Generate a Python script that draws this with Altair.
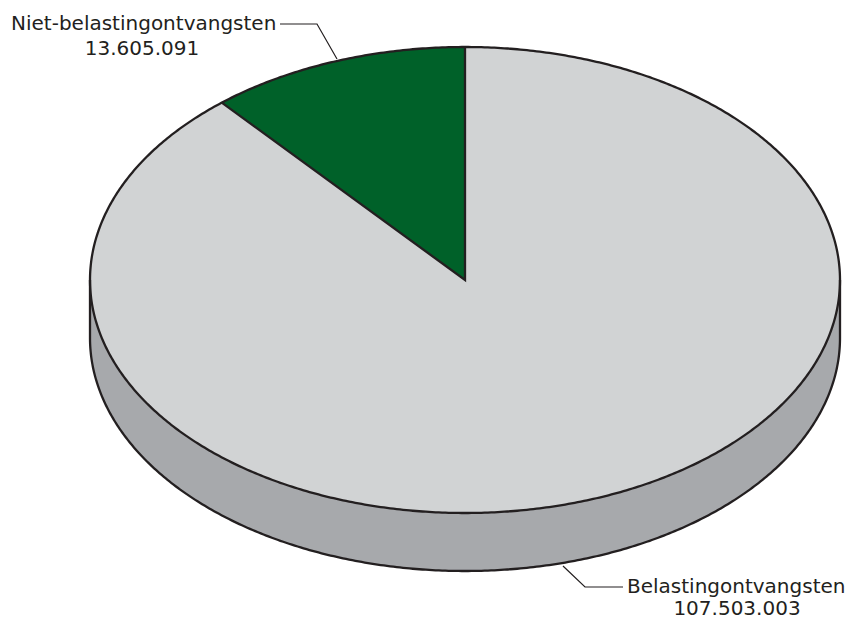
import math
import altair as alt
import pandas as pd

# ---- data ----
categories = ["Niet-belastingontvangsten", "Belastingontvangsten"]
values = [13605091, 107503003]
value_labels = ["13.605.091", "107.503.003"]

# ---- geometry / styles (pixels of the picture) ----
CX, CY, RX, RY, DEPTH = 465, 280, 375, 233, 58
N = 360
total = sum(values)
frac = values[0] / total
TH = 2 * math.pi * frac  # angle of the green slice, counter-clockwise from 12 o'clock

GREEN = "#006129"
TOP_GREY = "#d1d3d4"
SIDE_GREY = "#a7a9ac"
INK = "#231f20"
FONT = "DejaVu Sans"
FS = 20

X_SCALE = alt.Scale(domain=[8, 848], nice=False, zero=False)
Y_SCALE = alt.Scale(domain=[8, 620], nice=False, zero=False, reverse=True)


def X(f):
    return alt.X(f, type="quantitative", scale=X_SCALE, axis=None)


def Y(f):
    return alt.Y(f, type="quantitative", scale=Y_SCALE, axis=None)


seq = alt.sequence(0, N + 1, as_="i")

# side wall of the cylinder
side = alt.Chart(seq).transform_calculate(
    a=f"PI*datum.i/{N}",
).transform_calculate(
    x=f"{CX} - {RX}*cos(datum.a)",
    y=f"{CY} + {RY}*sin(datum.a)",
    y2=f"{CY} + {DEPTH} + {RY}*sin(datum.a)",
).mark_area(color=SIDE_GREY, opacity=1).encode(x=X("x"), y=Y("y"), y2="y2:Q")

# top face (the big grey slice)
top = alt.Chart(seq).transform_calculate(
    a=f"PI*datum.i/{N}",
).transform_calculate(
    x=f"{CX} - {RX}*cos(datum.a)",
    y=f"{CY} - {RY}*sin(datum.a)",
    y2=f"{CY} + {RY}*sin(datum.a)",
).mark_area(color=TOP_GREY, opacity=1).encode(x=X("x"), y=Y("y"), y2="y2:Q")

# green slice
green = alt.Chart(seq).transform_calculate(
    t=f"{TH}*datum.i/{N}",
).transform_calculate(
    x=f"{CX} - {RX}*sin(datum.t)",
    y=f"{CY} - {RY}*cos(datum.t)",
).transform_calculate(
    y2=f"{CY} - {RY}*cos({TH})*(({CX} - datum.x)/({RX}*sin({TH})))",
).mark_area(color=GREEN, opacity=1).encode(x=X("x"), y=Y("y"), y2="y2:Q")

# outline of the top ellipse
seq2 = alt.sequence(0, 2 * N + 1, as_="i")
top_outline = alt.Chart(seq2).transform_calculate(
    t=f"2*PI*datum.i/{2 * N}",
).transform_calculate(
    x=f"{CX} + {RX}*sin(datum.t)",
    y=f"{CY} - {RY}*cos(datum.t)",
).mark_line(color=INK, strokeWidth=2.3).encode(x=X("x"), y=Y("y"), order="i:Q")

# bottom front arc
bottom_outline = alt.Chart(seq).transform_calculate(
    t=f"PI/2 + PI*datum.i/{N}",
).transform_calculate(
    x=f"{CX} + {RX}*sin(datum.t)",
    y=f"{CY} + {DEPTH} - {RY}*cos(datum.t)",
).mark_line(color=INK, strokeWidth=2.3).encode(x=X("x"), y=Y("y"), order="i:Q")

# vertical side edges
edges_df = pd.DataFrame({"x": [CX - RX, CX + RX], "y": [CY, CY], "y2": [CY + DEPTH, CY + DEPTH]})
edges = alt.Chart(edges_df).mark_rule(color=INK, strokeWidth=2.3).encode(
    x=X("x"), y=Y("y"), y2="y2:Q"
)

# slice borders
PX = CX - RX * math.sin(TH)
PY = CY - RY * math.cos(TH)
border_df = pd.DataFrame({"x": [PX, CX, CX], "y": [PY, CY, CY - RY], "o": [0, 1, 2]})
borders = alt.Chart(border_df).mark_line(color=INK, strokeWidth=2.3, strokeJoin="miter").encode(
    x=X("x"), y=Y("y"), order="o:Q"
)

# leader lines
leader_df = pd.DataFrame({
    "g": ["a", "a", "a", "b", "b", "b"],
    "x": [280, 317, 337, 563, 585, 623],
    "y": [24, 24, 59, 566, 587, 587],
    "o": [0, 1, 2, 0, 1, 2],
})
leaders = alt.Chart(leader_df).mark_line(color=INK, strokeWidth=1.2).encode(
    x=X("x"), y=Y("y"), detail="g:N", order="o:Q"
)

# labels
name_df = pd.DataFrame({"label": categories, "x": [11, 627], "y": [30, 593]})
names = alt.Chart(name_df).mark_text(
    align="left", baseline="alphabetic", font=FONT, fontSize=FS, color=INK
).encode(x=X("x"), y=Y("y"), text="label:N")

val_df = pd.DataFrame({"label": value_labels, "x": [142, 737], "y": [55, 615]})
vals = alt.Chart(val_df).mark_text(
    align="center", baseline="alphabetic", font=FONT, fontSize=FS, color=INK
).encode(x=X("x"), y=Y("y"), text="label:N")

chart = alt.layer(
    side, top, green, top_outline, bottom_outline, edges, borders, leaders, names, vals
).properties(
    width=840, height=612, padding=0, autosize="none", background="white"
).configure_view(stroke=None)

chart.save("out.html", embed_options={"renderer": "svg", "actions": False})
